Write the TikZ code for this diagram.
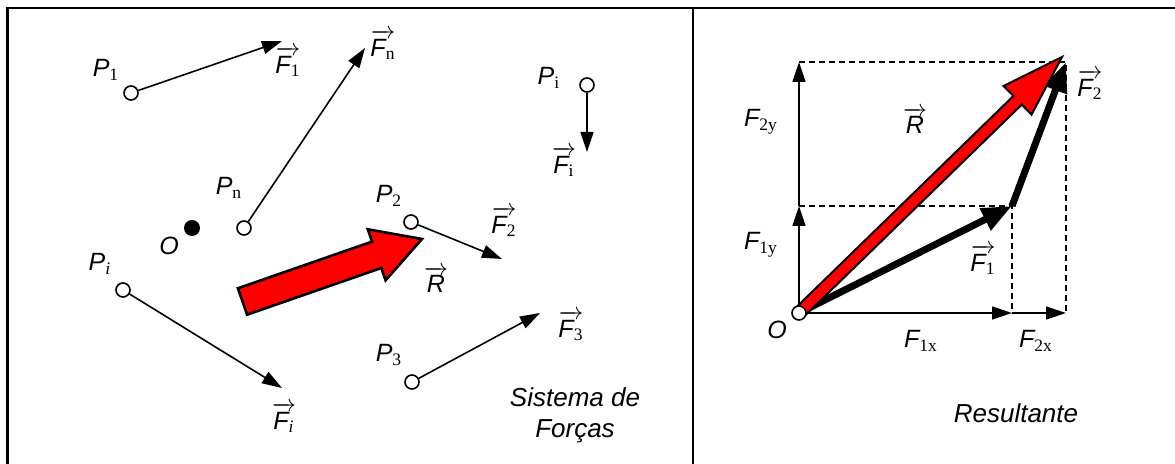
\documentclass[tikz,border=0pt]{standalone}
\usepackage{amsmath}
\usepackage{fontspec}
\setmainfont{Liberation Sans}
\newfontfamily\subfont{Liberation Serif}
\usetikzlibrary{arrows.meta}
\newcommand{\lbl}[2]{$\text{\itshape #1}_{\text{\subfont #2}}$}
\newcommand{\vlbl}[2]{$\overrightarrow{\text{\itshape #1}_{\text{\subfont #2}}}$}
\tikzset{
  pnt/.style={circle,draw,fill=white,line width=0.8pt,inner sep=0pt,minimum size=7pt},
  force/.style={line width=0.8pt,-{Triangle[length=10pt,width=6.5pt]}},
  heavy/.style={line width=3.5pt,-{Triangle[length=15pt,width=11.5pt]}},
  comp/.style={dash pattern=on 3pt off 2pt,line width=0.7pt},
  lab/.style={inner sep=0pt,font=\fontsize{12.5}{15}\selectfont},
  caption/.style={inner sep=0pt,align=center,font=\fontsize{13}{15.5}\selectfont\itshape},
  bigarrow/.style={fill=red,draw=black,line join=miter},
}
\begin{document}
\begin{tikzpicture}[x=0.5pt,y=-0.5pt]
  \useasboundingbox (0,0) rectangle (1175,464);
  \draw[line width=1.2pt] (7.5,464)--(7.5,8)--(1175,8) (693,8)--(693,464);

  % Sistema de forcas
  \coordinate (t1) at (282,41);
  \coordinate (tn) at (365,48);
  \coordinate (t2) at (502,259);
  \coordinate (t3) at (540,313);
  \coordinate (ti) at (282,388);
  \coordinate (tj) at (587,152);
  \node[pnt] (p1) at (131,93) {};
  \node[pnt] (pn) at (244,228) {};
  \node[pnt] (p2) at (411,222) {};
  \node[pnt] (p3) at (412,382) {};
  \node[pnt] (pi) at (123,290) {};
  \node[pnt] (pj) at (587,85) {};
  \node[circle,fill,inner sep=0pt,minimum size=8pt] (odot) at (192,228) {};
  \draw[force] (p1)--(t1);
  \draw[force] (pn)--(tn);
  \draw[force] (p2)--(t2);
  \draw[force] (p3)--(t3);
  \draw[force] (pi)--(ti);
  \draw[force] (pj)--(tj);
  \filldraw[bigarrow,line width=1.3pt] (237.9,288.3)--(372.1,241.6)--(367.8,229.3)--(422,239)
    --(385.6,280.3)--(381.3,268.0)--(247.1,314.7)--cycle;
  \node[lab] (lp1) at (106,70) {\lbl{P}{1}};
  \node[lab] (lf1) at (288,62) {\vlbl{F}{1}};
  \node[lab] (lpn) at (229,188) {\lbl{P}{n}};
  \node[lab] (lfn) at (383,45) {\vlbl{F}{n}};
  \node[lab] (lo) at (169,246) {\itshape O};
  \node[lab] (lpi) at (100,264) {\lbl{P}{\itshape i}};
  \node[lab] (lfi) at (284,418) {\vlbl{F}{\itshape i}};
  \node[lab] (lp2) at (389,196) {\lbl{P}{2}};
  \node[lab] (lf2) at (504,222) {\vlbl{F}{2}};
  \node[lab] (lr) at (436,280) {$\overrightarrow{\text{\itshape R}}$};
  \node[lab] (lp3) at (389,355) {\lbl{P}{3}};
  \node[lab] (lf3) at (571,326) {\vlbl{F}{3}};
  \node[lab] (lpj) at (549,78) {\lbl{P}{i}};
  \node[lab] (lfj) at (564,162) {\vlbl{F}{i}};
  \node[caption] (sist) at (575,415) {Sistema de\\Forças};

  % Resultante
  \coordinate (o) at (799,313);
  \coordinate (a1x) at (1012,313);
  \coordinate (a2x) at (1066,313);
  \coordinate (a1y) at (799,206);
  \coordinate (a2y) at (799,62);
  \coordinate (e1) at (1012,206);
  \coordinate (e2) at (1066,62);
  \draw[comp] (a2y)--(e2)--(a2x) (a1y)--(e1)--(a1x);
  \draw[force] (o)--(a1x);
  \draw[force] (a1x)--(a2x);
  \draw[force] (o)--(a1y);
  \draw[force] (a1y)--(a2y);
  \draw[heavy] (o)--(e1);
  \draw[heavy] (e1)--(e2);
  \filldraw[bigarrow,line width=1pt] (794.8,308.7)--(1013.4,96.0)--(1003.6,86.0)--(1062,57)
    --(1031.5,114.6)--(1021.8,104.6)--(803.2,317.3)--cycle;
  \node[pnt] (onode) at (o) {};
  \node[lab] (lo2) at (777,330) {\itshape O};
  \node[lab] (l1x) at (921,341) {\lbl{F}{1x}};
  \node[lab] (l2x) at (1036,341) {\lbl{F}{2x}};
  \node[lab] (l1y) at (761,245) {\lbl{F}{1y}};
  \node[lab] (l2y) at (761,122) {\lbl{F}{2y}};
  \node[lab] (lr2) at (915,121) {$\overrightarrow{\text{\itshape R}}$};
  \node[lab] (lf1r) at (983,260) {\vlbl{F}{1}};
  \node[lab] (lf2r) at (1090,85) {\vlbl{F}{2}};
  \node[caption] (res) at (1016,413) {Resultante};
\end{tikzpicture}
\end{document}
